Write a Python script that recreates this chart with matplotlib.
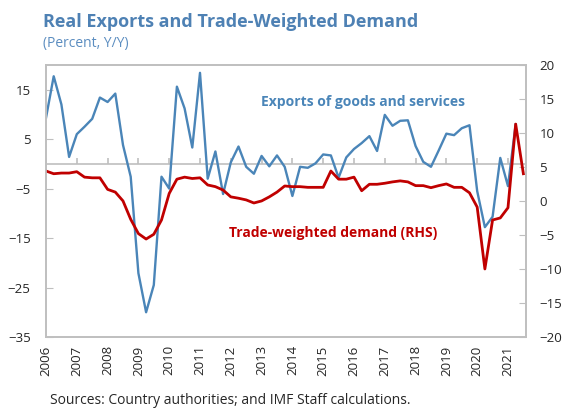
import numpy as np
import matplotlib.pyplot as plt

plt.rcParams['font.family'] = ['Open Sans', 'DejaVu Sans']

years = list(range(2006, 2022))
quarters = [f"{y}Q{q}" for y in years for q in range(1, 5)][:63]

# real exports of goods and services, % y/y (left axis), 2006Q1-2021Q2
exports = [9.3, 17.7, 12.0, 1.4, 6.0, 7.5, 9.1, 13.4, 12.5, 14.2, 3.8, -2.6,
           -22.1, -30.0, -24.5, -2.6, -5.0, 15.6, 11.2, 3.3, 18.4, -3.0, 2.5, -6.1,
           0.3, 3.5, -0.6, -2.0, 1.6, -0.5, 1.7, -0.6, -6.5, -0.6, -0.8, 0.1,
           1.9, 1.7, -2.8, 1.3, 3.0, 4.2, 5.6, 2.6, 9.9, 7.7, 8.7, 8.8,
           3.6, 0.4, -0.6, 2.7, 6.1, 5.8, 7.2, 7.8, -5.5, -12.8, -10.7, 1.2,
           -4.5, 8.0]

# trade-weighted demand, % y/y (right axis), 2006Q1-2021Q3
demand = [4.4, 4.0, 4.1, 4.1, 4.3, 3.5, 3.4, 3.4, 1.7, 1.3, 0.0, -2.7,
          -4.8, -5.6, -4.9, -2.8, 1.1, 3.2, 3.5, 3.3, 3.4, 2.35, 2.1, 1.6,
          0.6, 0.4, 0.15, -0.3, 0.0, 0.6, 1.3, 2.2, 2.1, 2.1, 2.0, 2.0,
          2.0, 4.4, 3.2, 3.2, 3.5, 1.5, 2.45, 2.45, 2.6, 2.8, 2.95, 2.8,
          2.25, 2.25, 1.95, 2.25, 2.5, 2.0, 2.0, 1.2, -0.9, -10.0, -2.8, -2.5,
          -1.0, 11.3, 4.0]

blue = '#4A85B8'
red = '#C00000'
grey = '#BFBFBF'

fig = plt.figure(figsize=(5.68, 4.15), dpi=100)
ax = fig.add_axes([0.081, 0.188, 0.8445, 0.6556])
ax2 = ax.twinx()

xe = np.arange(len(exports))
xd = np.arange(len(demand))
yr_pos = [quarters.index(f"{y}Q1") for y in years]

# zero line with small year ticks, like the excel category axis
ax.axhline(0, color=grey, lw=1.2, zorder=0)
ax.plot(yr_pos, np.zeros(len(yr_pos)), ls='none', marker=2, ms=4, mew=1.2, color=grey, zorder=0)
ax.plot(xe, exports, color=blue, lw=1.7)
ax2.plot(xd, demand, color=red, lw=2.0)

ax.set_xlim(0, 62.3)
ax.set_ylim(-35, 20)
ax.set_yticks(range(-35, 16, 10))
ax2.set_ylim(-20, 20)
ax2.set_yticks(range(-20, 21, 5))

ax.set_xticks(yr_pos)
ax.set_xticklabels(years, rotation=90)
ax.tick_params(axis='x', length=0, pad=6, labelsize=9.5, colors='#262626')
ax.tick_params(axis='y', direction='in', length=5, color=grey, pad=11,
               labelsize=9.5, labelcolor='#262626')
ax2.tick_params(axis='y', direction='in', length=5, color=grey, pad=10,
                labelsize=9.5, labelcolor='#262626')

for a in (ax, ax2):
    for s in a.spines.values():
        s.set_color(grey)
        s.set_linewidth(1.2)

fig.text(0.0757, 0.936, 'Real Exports and Trade-Weighted Demand', fontsize=13,
         fontweight='bold', color='#4E81B4', va='baseline')
fig.text(0.0757, 0.887, '(Percent, Y/Y)', fontsize=10, color='#5B8DC0', va='baseline')

fig.text(0.4595, 0.755, 'Exports of goods and services', fontsize=10, fontweight='bold',
         color=blue, va='center')
fig.text(0.4037, 0.439, 'Trade-weighted demand (RHS)', fontsize=10, fontweight='bold',
         color=red, va='center')

fig.text(0.088, 0.034, 'Sources: Country authorities; and IMF Staff calculations.',
         fontsize=10, color='#262626', va='center')

fig.savefig('out.png', dpi=100)
